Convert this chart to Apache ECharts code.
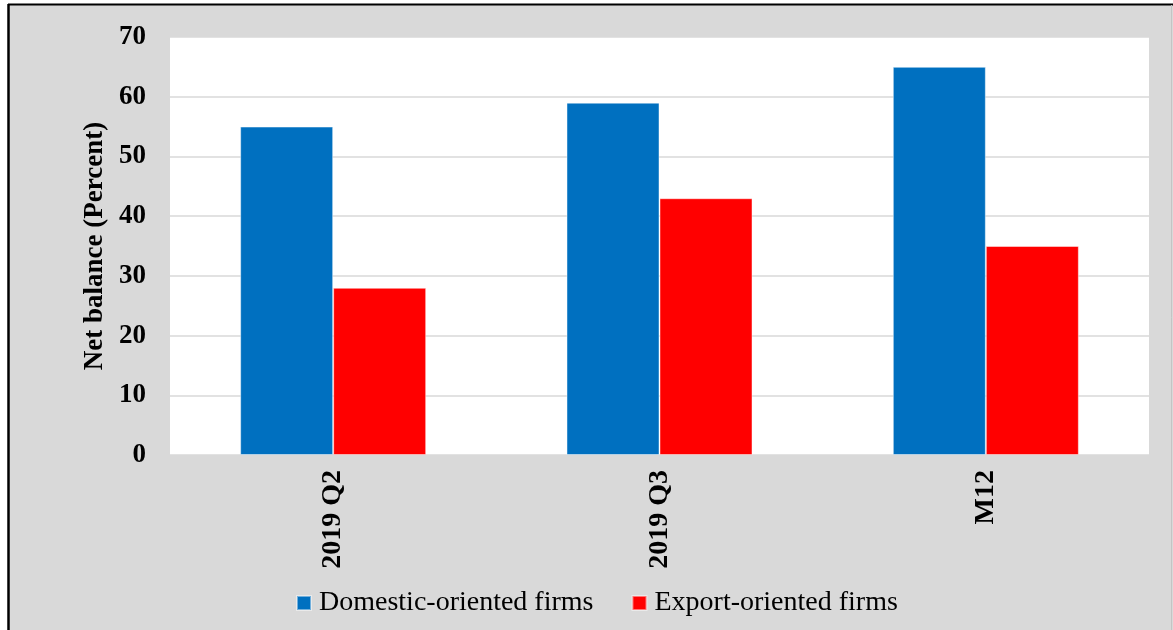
<!DOCTYPE html>
<html>
<head>
<meta charset="utf-8">
<script src="https://cdn.jsdelivr.net/npm/echarts@6/dist/echarts.min.js"></script>
<style>
  html, body { margin: 0; padding: 0; background: #ffffff; }
  #chart { width: 1173px; height: 630px; }
</style>
</head>
<body>
<div id="chart"></div>
<script>
// Categories and net balances (percent)
const categories = ['2019 Q2', '2019 Q3', 'M12'];
const domesticFirms = [55, 59, 65];
const exportFirms = [28, 43, 35];
const seriesNames = ['Domestic-oriented firms', 'Export-oriented firms'];
const yAxisTitle = 'Net balance (Percent)';

const serif = '"Liberation Serif", "Times New Roman", serif';

const chart = echarts.init(document.getElementById('chart'), null, { renderer: 'canvas' });

chart.setOption({
  backgroundColor: '#ffffff',
  animation: false,
  graphic: [
    { type: 'rect', z: -10, shape: { x: 9, y: 4, width: 1164, height: 626 }, style: { fill: '#d9d9d9' } },
    { type: 'line', z: -5, shape: { x1: 8, y1: 4.5, x2: 1173, y2: 4.5 }, style: { stroke: '#000000', lineWidth: 2 } },
    { type: 'line', z: -5, shape: { x1: 8.5, y1: 4, x2: 8.5, y2: 630 }, style: { stroke: '#000000', lineWidth: 2.5 } },
    { type: 'line', z: -5, shape: { x1: 1171.5, y1: 5, x2: 1171.5, y2: 630 }, style: { stroke: '#c4c4c4', lineWidth: 1 } }
  ],
  grid: {
    left: 170, right: 24, top: 37, bottom: 175,
    show: true, backgroundColor: '#ffffff', borderWidth: 0
  },
  legend: {
    left: 291, top: 584,
    itemWidth: 14, itemHeight: 14, itemGap: 38,
    icon: 'rect',
    textStyle: { fontFamily: serif, fontSize: 28, color: '#000000', padding: [0, 0, 0, 3] },
    data: seriesNames
  },
  xAxis: {
    type: 'category',
    data: categories,
    axisLine: { show: false },
    axisTick: { show: false },
    splitLine: { show: false },
    axisLabel: {
      rotate: 90, margin: 15,
      fontFamily: serif, fontSize: 28, fontWeight: 'bold', color: '#000000'
    }
  },
  yAxis: {
    type: 'value',
    min: 0, max: 70, interval: 10,
    name: yAxisTitle,
    nameLocation: 'middle',
    nameGap: 57,
    nameRotate: 90,
    nameTextStyle: { fontFamily: serif, fontSize: 27, fontWeight: 'bold', color: '#000000' },
    axisLine: { show: false },
    axisTick: { show: false },
    axisLabel: { margin: 24, fontFamily: serif, fontSize: 27, fontWeight: 'bold', color: '#000000' },
    splitLine: { lineStyle: { color: '#d9d9d9', width: 1.5 } }
  },
  series: [
    {
      name: seriesNames[0], type: 'bar', data: domesticFirms,
      barGap: '0%', barCategoryGap: '43%',
      itemStyle: { color: '#0070c0', borderColor: 'rgba(255,255,255,0.45)', borderWidth: 1 }
    },
    {
      name: seriesNames[1], type: 'bar', data: exportFirms,
      barGap: '0%', barCategoryGap: '43%',
      itemStyle: { color: '#ff0000', borderColor: 'rgba(255,255,255,0.45)', borderWidth: 1 }
    }
  ]
});
</script>
</body>
</html>
